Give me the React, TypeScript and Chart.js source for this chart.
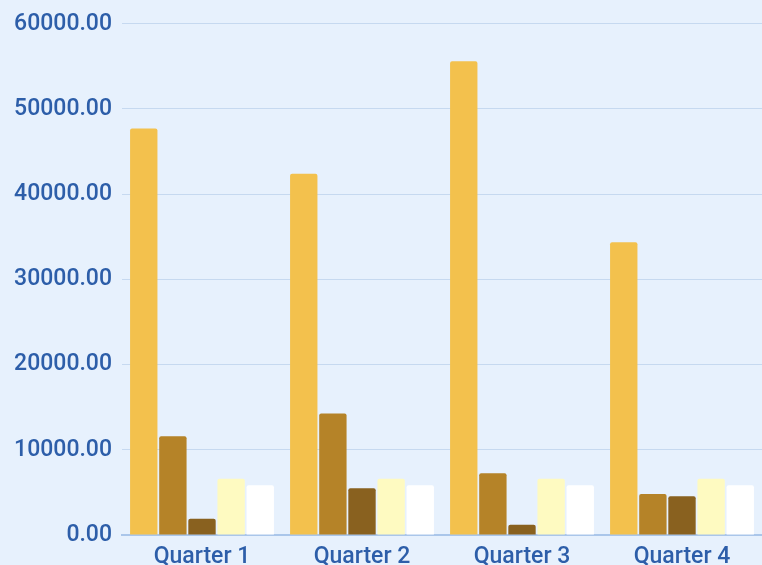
import React, { useEffect, useRef } from "react";
import { Chart, registerables } from "chart.js";

Chart.register(...registerables);

const categories = ["Quarter 1", "Quarter 2", "Quarter 3", "Quarter 4"];
const seriesA = [47700, 42400, 55600, 34350];
const seriesB = [11600, 14250, 7250, 4800];
const seriesC = [1900, 5500, 1200, 4550];
const seriesD = [6600, 6600, 6600, 6600];
const seriesE = [5850, 5850, 5850, 5850];
const seriesColors = ["#f3c14d", "#b58328", "#89611f", "#fefac1", "#ffffff"];
const yTicks = [0, 10000, 20000, 30000, 40000, 50000, 60000];

const BG = "#e7f1fd";
const TEXT = "#2d5ea9";
const FONT = { family: "Roboto", size: 23, weight: "500" as const };

export default function App() {
  const ref = useRef<HTMLCanvasElement | null>(null);
  useEffect(() => {
    document.body.style.margin = "0";
    document.body.style.background = BG;
    const bgPlugin = {
      id: "bg",
      beforeDraw(chart: any) {
        const { ctx, width, height } = chart;
        ctx.save();
        ctx.fillStyle = BG;
        ctx.fillRect(0, 0, width, height);
        ctx.restore();
      },
    };
    const data = [seriesA, seriesB, seriesC, seriesD, seriesE];
    const chart = new Chart(ref.current!, {
      type: "bar",
      data: {
        labels: categories,
        datasets: data.map((d, i) => ({
          label: "S" + (i + 1),
          data: d,
          backgroundColor: seriesColors[i],
          borderRadius: 2,
          borderSkipped: "bottom" as any,
          barPercentage: 0.94,
          categoryPercentage: 0.91,
        })),
      },
      options: {
        animation: false,
        responsive: false,
        maintainAspectRatio: false,
        layout: { padding: { top: 21, right: 0, left: 0, bottom: 0 } },
        plugins: { legend: { display: false }, tooltip: { enabled: false } },
        scales: {
          x: {
            grid: { display: false, drawTicks: false },
            border: { display: true, color: "#aac6ea", width: 2 },
            ticks: {
              color: TEXT,
              font: FONT,
              padding: 8,
              maxRotation: 0,
            },
            afterFit(scale: any) {
              scale.height = 37;
            },
          },
          y: {
            min: 0,
            max: 60000,
            afterBuildTicks(scale: any) {
              scale.ticks = yTicks.map((v) => ({ value: v }));
            },
            grid: { color: "#c6d9f0", lineWidth: 1, drawTicks: false },
            border: { display: false },
            ticks: {
              color: TEXT,
              font: FONT,
              padding: 10,
              callback: (v: any) => Number(v).toFixed(2),
            },
            afterFit(scale: any) {
              scale.width = 122;
            },
          },
        },
      },
      plugins: [bgPlugin],
    });
    return () => chart.destroy();
  }, []);
  return (
    <div style={{ width: 762, height: 565, overflow: "hidden", background: BG }}>
      <canvas ref={ref} width={762} height={572} style={{ display: "block" }} />
    </div>
  );
}
